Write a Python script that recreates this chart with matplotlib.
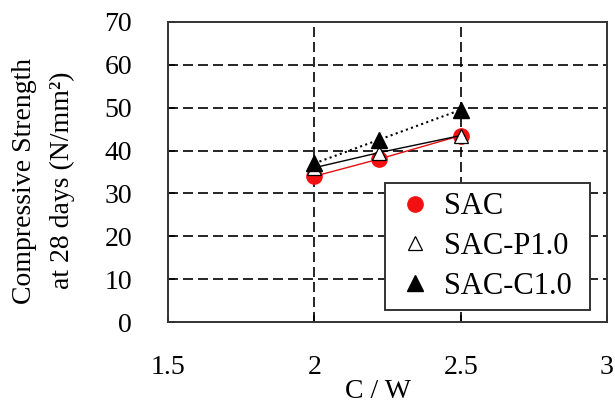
import matplotlib
matplotlib.use("Agg")
import matplotlib.pyplot as plt

# Compressive strength at 28 days versus cement/water ratio
cw = [2.0, 2.22, 2.5]
sac = [34.0, 38.0, 43.5]
sac_p10 = [36.0, 39.5, 43.5]
sac_c10 = [37.0, 42.5, 49.5]

series_labels = ["SAC", "SAC-P1.0", "SAC-C1.0"]
xticks = [1.5, 2, 2.5, 3]
xtick_labels = ["1.5", "2", "2.5", "3"]
yticks = [0, 10, 20, 30, 40, 50, 60, 70]

serif = ["Liberation Serif", "DejaVu Serif"]
plt.rcParams["font.family"] = serif

fig = plt.figure(figsize=(6.15, 4.08), dpi=100)
ax = fig.add_axes([168 / 615, (408 - 322) / 408, 439 / 615, 300 / 408])

ax.set_xlim(1.5, 3.0)
ax.set_ylim(0, 70)
ax.set_xticks(xticks)
ax.set_xticklabels(xtick_labels)
ax.set_yticks(yticks)

# dashed black grid
for yv in yticks[1:-1]:
    ax.axhline(yv, color="black", lw=1.2, dashes=(6, 3), zorder=1)
for xv in xticks[1:-1]:
    ax.axvline(xv, color="black", lw=1.2, dashes=(6, 3), zorder=1)

l_sac, = ax.plot(cw, sac, color="#e01010", lw=1.0, marker="o", ms=11,
                 mfc="#f41010", mec="#f41010", label=series_labels[0], zorder=3)
l_p, = ax.plot(cw, sac_p10, color="black", lw=1.0, marker="^", ms=10,
               mfc="white", mec="black", mew=0.9, label=series_labels[1], zorder=4)
l_c, = ax.plot(cw, sac_c10, color="black", lw=1.5, ls=(0, (1, 1.6)), marker="^",
               ms=11, mfc="black", mec="black", label=series_labels[2], zorder=5)

for sp in ax.spines.values():
    sp.set_linewidth(1.4)
    sp.set_color("#333333")

ax.tick_params(direction="in", length=5, width=1.2, labelsize=20,
               top=False, right=False)
ax.tick_params(axis="y", pad=26)
ax.tick_params(axis="x", pad=24)

leg = ax.legend([l_sac, l_p, l_c], series_labels,
                loc="upper left", bbox_to_anchor=(0.494, 0.05, 0.467, 0.413),
                mode="expand", fontsize=22, frameon=True, fancybox=False,
                framealpha=1.0, facecolor="white",
                edgecolor="#333333", borderpad=0.3, labelspacing=0.35,
                handlelength=1.4, handletextpad=0.25, borderaxespad=0)
leg.get_frame().set_linewidth(1.4)
leg.set_zorder(10)
for h in leg.get_lines():
    h.set_linestyle("none")

fig.text(378 / 615, 1 - 391 / 408, "C / W", ha="center", va="center", fontsize=20)
fig.text(25 / 615, 1 - 181 / 408, "Compressive Strength", rotation=90,
         ha="center", va="center", fontsize=20)
fig.text(62 / 615, 1 - 180 / 408, "at 28 days (N/mm²)", rotation=90,
         ha="center", va="center", fontsize=20)

fig.savefig("out.png", dpi=100)
